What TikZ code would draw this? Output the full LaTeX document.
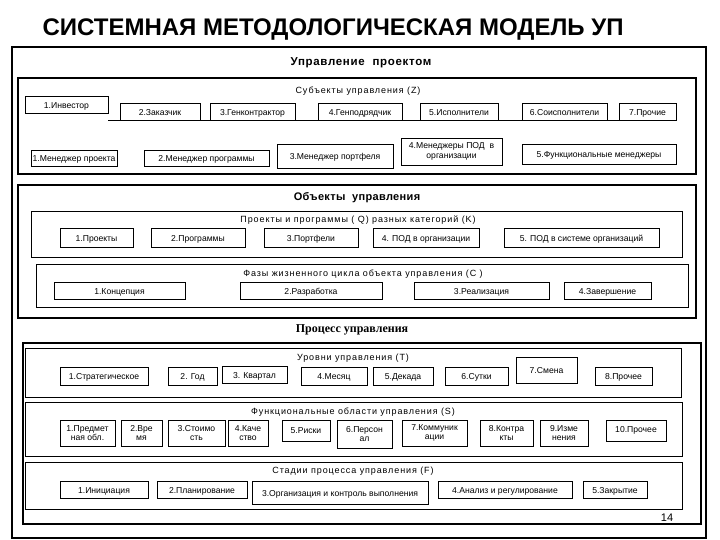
\documentclass[tikz,border=0pt]{standalone}
\usepackage{fontspec}
\setmainfont{Liberation Sans}
\newfontfamily\procfont{Liberation Serif}
\usetikzlibrary{positioning}

\tikzset{
    ubox2/.style={draw, fill=white, inner sep=0.5pt, align=center,
        font=\fontsize{8.6}{9.4}\selectfont},
    ubox/.style={ubox2, text height=8pt, text depth=0.4pt},
    bigframe/.style={draw, line width=2.4pt},
    smallframe/.style={draw, line width=0.8pt},
    ftitle/.style={font=\fontsize{9}{10}\selectfont\addfontfeature{LetterSpace=10}},
    stitle/.style={font=\fontsize{11}{12}\selectfont\bfseries\addfontfeature{LetterSpace=3}}
}

\begin{document}
\begin{tikzpicture}[x=1pt,y=-1pt]
        \useasboundingbox (0,0) rectangle (720,540);

        % Title
        \node[font=\fontsize{24}{26}\selectfont\bfseries] (title) at (333,30)
            {СИСТЕМНАЯ МЕТОДОЛОГИЧЕСКАЯ МОДЕЛЬ УП};

        % Draw the frames
        \draw[line width=2pt] (12,47) rectangle (706,538);
        \draw[bigframe] (18,78) rectangle (696,174);
        \draw[bigframe] (18,185) rectangle (696,318);
        \draw[smallframe] (31,211) rectangle (682,257);
        \draw[smallframe] (36,264) rectangle (688,307);
        \draw[bigframe] (23,343) rectangle (701,524);
        \draw[smallframe] (25,348) rectangle (681,397);
        \draw[smallframe] (25,402) rectangle (682,456);
        \draw[smallframe] (25,462) rectangle (682,509);

        % Frame titles
        \node[stitle, font=\fontsize{11.5}{12}\selectfont\bfseries\addfontfeature{LetterSpace=6}]
            (upr) at (361,63) {Управление\ \ проектом};
        \node[ftitle] (subj) at (358,91) {Субъекты управления (Z)};
        \node[stitle] (obj) at (357,198) {Объекты\ \ управления};
        \node[ftitle] (projt) at (358,220) {Проекты и программы ( Q) разных категорий (K)};
        \node[ftitle] (fazt) at (363,274) {Фазы жизненного цикла объекта управления (С )};
        \node[font=\procfont\fontsize{12}{13}\selectfont\bfseries] (proc) at (352,330) {Процесс управления};
        \node[ftitle] (urov) at (353,358) {Уровни управления (Т)};
        \node[ftitle] (func) at (353,412) {Функциональные области\ управления (S)};
        \node[ftitle] (stad) at (353,471) {Стадии процесса управления (F)};
        \node[font=\fontsize{11}{12}\selectfont] (page) at (667,518) {14};

        % Subjects
        \foreach \n/\xa/\ya/\xb/\yb/\t in {
            inv/25/96/108/113/{1.Инвестор},
            zak/120/103/200/120/{2.Заказчик},
            gen/210/103/295/120/{3.Генконтрактор},
            genp/318/103/402/120/{4.Генподрядчик},
            isp/420/103/498/120/{5.Исполнители},
            soisp/522/103/607/120/{6.Соисполнители},
            proch/619/103/676/120/{7.Прочие},
            mproj/31/150/117/166/{1.Менеджер проекта},
            mprog/144/150/269/166/{2.Менеджер программы},
            mport/277/144/393/168/{3.Менеджер портфеля},
            mfunc/522/144/676/164/{5.Функциональные менеджеры}}
            \node[ubox, minimum width={(\xb-\xa)*1pt}, minimum height={(\yb-\ya)*1pt}]
                (\n) at ({(\xa+\xb)/2},{(\ya+\yb)/2}) {\t};
        \node[ubox2, minimum width=101pt, minimum height=27pt] (mpod) at (451.5,151.5)
            {4.Менеджеры ПОД\ \ в\\организации};
        \draw (inv.east |- zak.south) -- (proch.south west);

        % Objects
        \foreach \n/\xa/\xb/\t in {
            ob1/60/133/{1.Проекты},
            ob2/151/245/{2.Программы},
            ob3/264/358/{3.Портфели},
            ob4/373/479/{4. ПОД в организации},
            ob5/504/659/{5. ПОД в системе организаций}}
            \node[ubox, minimum width={(\xb-\xa)*1pt}, minimum height=19pt]
                (\n) at ({(\xa+\xb)/2},238) {\t};
        \foreach \n/\xa/\xb/\t in {
            ph1/54/185/{1.Концепция},
            ph2/240/382/{2.Разработка},
            ph3/414/549/{3.Реализация},
            ph4/564/651/{4.Завершение}}
            \node[ubox, minimum width={(\xb-\xa)*1pt}, minimum height=17pt]
                (\n) at ({(\xa+\xb)/2},291) {\t};

        % Levels
        \foreach \n/\xa/\ya/\xb/\yb/\t in {
            lv1/60/367/148/385/{1.Стратегическое},
            lv2/168/367/217/385/{2. Год},
            lv3/222/366/287/383/{3. Квартал},
            lv4/301/367/367/385/{4.Месяц},
            lv5/373/367/433/385/{5.Декада},
            lv6/445/367/508/385/{6.Сутки},
            lv7/516/357/577/383/{7.Смена},
            lv8/595/367/652/385/{8.Прочее}}
            \node[ubox, minimum width={(\xb-\xa)*1pt}, minimum height={(\yb-\ya)*1pt}]
                (\n) at ({(\xa+\xb)/2},{(\ya+\yb)/2}) {\t};

        % Functional areas
        \foreach \n/\xa/\xb/\yb/\t in {
            fa1/60/115/446/{1.Предмет\\ная обл.},
            fa2/121/162/446/{2.Вре\\мя},
            fa3/168/225/446/{3.Стоимо\\сть},
            fa4/228/268/446/{4.Каче\\ство},
            fa5/282/330/441/{5.Риски},
            fa6/337/392/448/{6.Персон\\ал},
            fa7/402/467/446/{7.Коммуник\\ации},
            fa8/480/533/446/{8.Контра\\кты},
            fa9/540/588/446/{9.Изме\\нения},
            fa10/606/666/441/{10.Прочее}}
            \node[ubox2, minimum width={(\xb-\xa)*1pt}, minimum height={(\yb-420)*1pt}]
                (\n) at ({(\xa+\xb)/2},{(420+\yb)/2}) {\t};

        % Stages
        \foreach \n/\xa/\yb/\xb/\t in {
            st1/60/498/148/{1.Инициация},
            st2/157/498/247/{2.Планирование},
            st3/252/504/428/{3.Организация и контроль выполнения},
            st4/438/498/572/{4.Анализ и регулирование},
            st5/583/498/647/{5.Закрытие}}
            \node[ubox, minimum width={(\xb-\xa)*1pt}, minimum height={(\yb-481)*1pt}]
                (\n) at ({(\xa+\xb)/2},{(481+\yb)/2}) {\t};
\end{tikzpicture}
\end{document}
